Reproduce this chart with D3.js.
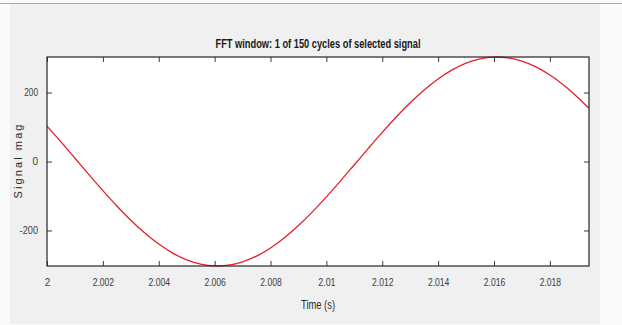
<!DOCTYPE html>
<html><head><meta charset="utf-8">
<script src="https://cdn.jsdelivr.net/npm/d3@7/dist/d3.min.js"></script>
<style>html,body{margin:0;padding:0;background:#fafafa;}svg{display:block;}</style>
</head><body>
<script>
// Data (time in s, signal magnitude)
const times = [2.0000,2.0005,2.0010,2.0015,2.0020,2.0025,2.0030,2.0035,2.0040,2.0045,
  2.0050,2.0055,2.0060,2.0065,2.0070,2.0075,2.0080,2.0085,2.0090,2.0095,
  2.0100,2.0105,2.0110,2.0115,2.0120,2.0125,2.0130,2.0135,2.0140,2.0145,
  2.0150,2.0155,2.0160,2.0165,2.0170,2.0175,2.0180,2.0185,2.0190,2.0194];
const signalMag = [102.6,56.8,9.5,-38.0,-84.5,-129.0,-170.3,-207.4,-239.4,-265.5,
  -285.1,-297.6,-302.8,-300.6,-291.0,-274.2,-250.6,-220.9,-185.7,-146.0,
  -102.6,-56.8,-9.5,38.0,84.5,129.0,170.3,207.4,239.4,265.5,
  285.1,297.6,302.8,300.6,291.0,274.2,250.6,220.9,185.7,154.2];
const xTicks = [2,2.002,2.004,2.006,2.008,2.01,2.012,2.014,2.016,2.018];
const xTickLabels = ["2","2.002","2.004","2.006","2.008","2.01","2.012","2.014","2.016","2.018"];
const yTicks = [-200,0,200];
const yTickLabels = ["-200","0","200"];
const xDomain = [2, 2.0194];
const yDomain = [-303, 303];
const titleText = "FFT window: 1 of 150 cycles of selected signal";
const xLabel = "Time (s)";
const yLabel = "Signal mag";

const W = 622, H = 325;
const m = {left:47, right:33, top:57, bottom:59};
const pw = W - m.left - m.right, ph = H - m.top - m.bottom;
const font = "'Liberation Sans Narrow','Arial Narrow','Liberation Sans',Arial,sans-serif";

const svg = d3.select("body").append("svg").attr("width", W).attr("height", H);
svg.append("rect").attr("x",10).attr("y",3).attr("width",590).attr("height",321).attr("fill","#f0f0f0");
svg.append("line").attr("x1",0).attr("x2",W).attr("y1",3.5).attr("y2",3.5).attr("stroke","#a8a8a8").attr("stroke-width",1);

const x = d3.scaleLinear().domain(xDomain).range([0, pw]);
const y = d3.scaleLinear().domain(yDomain).range([ph, 0]);

const g = svg.append("g").attr("transform", `translate(${m.left},${m.top})`);
g.append("rect").attr("width", pw).attr("height", ph).attr("fill", "#fff");

const line = d3.line().x((d,i)=>x(times[i])).y(d=>y(d)).curve(d3.curveCatmullRom);
g.append("path").datum(signalMag).attr("d", line).attr("fill","none")
  .attr("stroke","#e3202a").attr("stroke-width",1.3);

function styleAxis(sel, showText){
  sel.select(".domain").remove();
  sel.selectAll(".tick line").attr("stroke","#3a3a3a").attr("stroke-width",1);
  sel.selectAll(".tick text").attr("fill","#3c3c3c").style("font-family",font).style("font-size","10px");
  if(!showText) sel.selectAll(".tick text").remove();
}
const xb = g.append("g").attr("transform",`translate(0,${ph})`)
  .call(d3.axisBottom(x).tickValues(xTicks).tickSize(-5).tickPadding(13).tickFormat((d,i)=>xTickLabels[i]));
styleAxis(xb, true);
xb.selectAll(".tick text").each(function(){ const n=this.textContent.length; if(n>1) d3.select(this).attr("textLength", n*4.3).attr("lengthAdjust","spacingAndGlyphs"); });
const xt = g.append("g").call(d3.axisTop(x).tickValues(xTicks).tickSize(-5).tickFormat(""));
styleAxis(xt, false);
const yl = g.append("g")
  .call(d3.axisLeft(y).tickValues(yTicks).tickSize(-5).tickPadding(9).tickFormat((d,i)=>yTickLabels[i]));
styleAxis(yl, true);
yl.selectAll(".tick text").each(function(){ const n=this.textContent.length; if(n>1) d3.select(this).attr("textLength", n*4.6).attr("lengthAdjust","spacingAndGlyphs"); });
const yr = g.append("g").attr("transform",`translate(${pw},0)`)
  .call(d3.axisRight(y).tickValues(yTicks).tickSize(-5).tickFormat(""));
styleAxis(yr, false);

g.append("rect").attr("width", pw).attr("height", ph).attr("fill","none")
  .attr("stroke","#262626").attr("stroke-width",1.2);

svg.append("text").attr("x", m.left + pw/2).attr("y", 48).attr("text-anchor","middle")
  .attr("textLength", 205).attr("lengthAdjust","spacingAndGlyphs")
  .style("font-family",font).style("font-size","12px").style("font-weight","bold")
  .attr("fill","#1a1a1a").text(titleText);
svg.append("text").attr("x", m.left + pw/2).attr("y", 309).attr("text-anchor","middle")
  .attr("textLength", 34).attr("lengthAdjust","spacingAndGlyphs")
  .style("font-family",font).style("font-size","12px").attr("fill","#2a2a2a").text(xLabel);
svg.append("text").attr("transform",`translate(22,${m.top+ph/2}) rotate(-90)`).attr("text-anchor","middle")
  .attr("textLength", 74).attr("lengthAdjust","spacing")
  .style("font-family","'Liberation Sans',Arial,sans-serif").style("font-size","11px").attr("fill","#2a2a2a").text(yLabel);
</script>
</body></html>
